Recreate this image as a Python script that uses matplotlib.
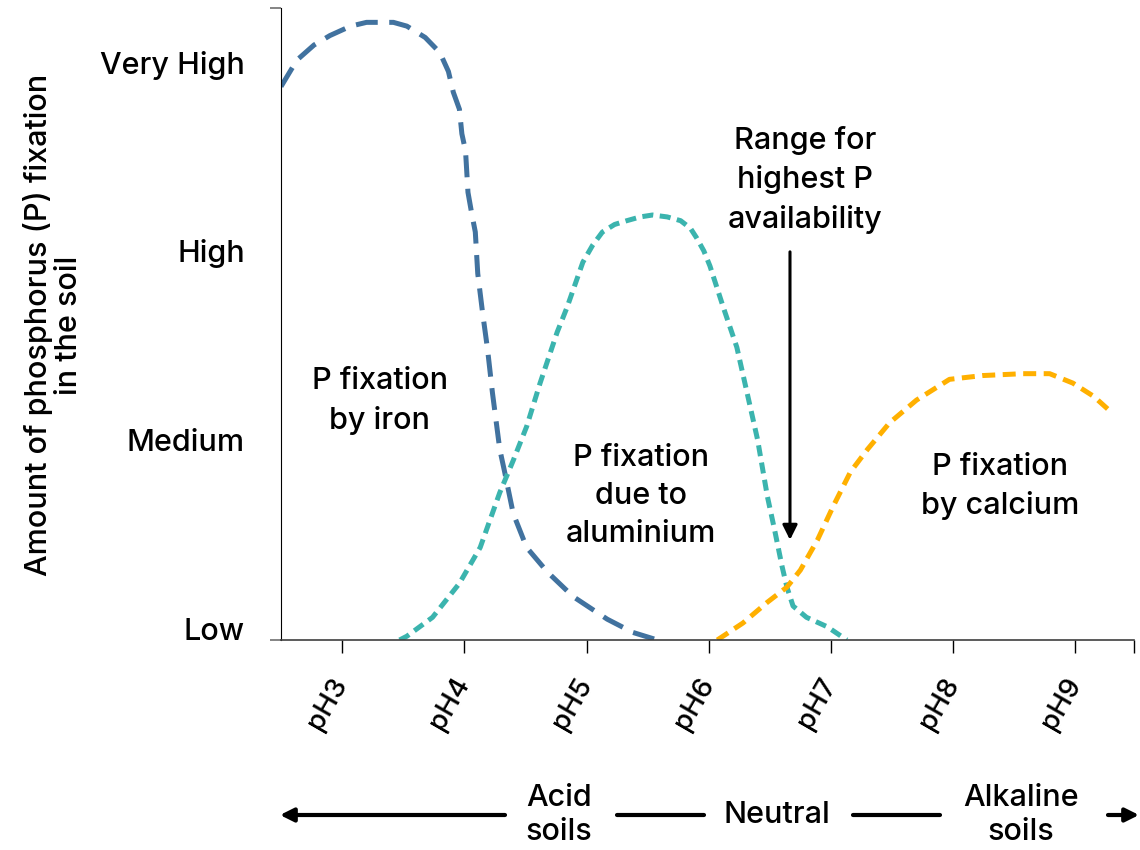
import matplotlib
matplotlib.use("Agg")
import matplotlib.pyplot as plt

plt.rcParams['font.family'] = ['Inter', 'DejaVu Sans']
plt.rcParams['font.weight'] = 'medium'

# pH on x, fixation level on y (0=Low, 1=Medium, 2=High, 3=Very High)
iron_ph = [2.5, 2.63, 2.77, 2.90, 3.07, 3.20, 3.31, 3.42, 3.53, 3.68, 3.80, 3.87, 3.91, 3.96,
           3.98, 4.01, 4.03, 4.06, 4.09, 4.11, 4.15, 4.19, 4.23, 4.29, 4.33, 4.40, 4.51, 4.68,
           4.89, 5.17, 5.38, 5.58]
iron_lvl = [2.87, 3.01, 3.09, 3.14, 3.19, 3.21, 3.21, 3.21, 3.19, 3.13, 3.05, 2.95, 2.84, 2.75,
            2.62, 2.53, 2.31, 2.20, 2.10, 1.88, 1.67, 1.48, 1.25, 0.95, 0.83, 0.61, 0.43, 0.30,
            0.17, 0.05, -0.02, -0.06]

alu_ph = [3.47, 3.53, 3.74, 3.96, 4.13, 4.29, 4.40, 4.51, 4.62, 4.76, 4.84, 4.97, 5.05, 5.13,
          5.23, 5.33, 5.44, 5.54, 5.66, 5.77, 5.85, 5.90, 5.96, 6.01, 6.12, 6.23, 6.31, 6.40,
          6.48, 6.54, 6.60, 6.64, 6.69, 6.80, 6.97, 7.13]
alu_lvl = [-0.06, -0.04, 0.06, 0.24, 0.43, 0.72, 0.89, 1.07, 1.30, 1.57, 1.70, 1.94, 2.03, 2.10,
           2.14, 2.16, 2.18, 2.19, 2.18, 2.16, 2.12, 2.07, 2.00, 1.92, 1.70, 1.49, 1.26, 1.00,
           0.70, 0.52, 0.33, 0.22, 0.12, 0.06, 0.01, -0.06]

ca_ph = [6.07, 6.28, 6.48, 6.64, 6.75, 6.89, 7.02, 7.16, 7.30, 7.48, 7.70, 7.97, 8.24, 8.57,
         8.79, 8.98, 9.15, 9.27]
ca_lvl = [-0.06, 0.03, 0.14, 0.22, 0.31, 0.47, 0.65, 0.83, 0.95, 1.09, 1.21, 1.32, 1.34, 1.35,
          1.35, 1.30, 1.23, 1.16]

ph_ticks = [3, 4, 5, 6, 7, 8, 9]
ph_labels = ['pH3', 'pH4', 'pH5', 'pH6', 'pH7', 'pH8', 'pH9']
level_ticks = [0, 1, 2, 3]
level_labels = ['Low', 'Medium', 'High', 'Very High']

fig = plt.figure(figsize=(11.4, 8.5), dpi=100)
ax = fig.add_axes([281 / 1140, 210 / 850, 853 / 1140, 632 / 850])

ax.plot(iron_ph, iron_lvl, color='#41729f', lw=3.6, dashes=(4.4, 2.3))
ax.plot(alu_ph, alu_lvl, color='#3bb4ae', lw=3.6, dashes=(2.2, 1.3))
ax.plot(ca_ph, ca_lvl, color='#ffb000', lw=3.6, dashes=(2.6, 1.5))

ax.set_xlim(2.5, 9.48)
ax.set_ylim(-0.06, 3.286)

ax.spines['top'].set_visible(False)
ax.spines['right'].set_visible(False)
ax.spines['left'].set_color('black')
ax.spines['bottom'].set_color('#404040')
ax.spines['bottom'].set_linewidth(1.2)

ax.set_xticks(ph_ticks)
ax.set_xticklabels([])
ax.set_xticks([9.48], minor=True)
ax.tick_params(axis='x', which='both', direction='out', length=9, width=1, color='black')

ax.set_yticks(level_ticks)
ax.set_yticklabels(level_labels, fontsize=22)
ax.tick_params(axis='y', which='major', length=0, pad=26)
ax.set_yticks([-0.06, 3.286], minor=True)
ax.tick_params(axis='y', which='minor', length=8, width=1.2, color='#707070')

for t, lab in zip(ph_ticks, ph_labels):
    ax.text(t - 0.115, -0.1, lab, transform=ax.get_xaxis_transform(), rotation=60,
            ha='center', va='center', fontsize=20)

fig.text(53 / 1140, 1 - 325 / 850, 'Amount of phosphorus (P) fixation\nin the soil',
         rotation=90, ha='center', va='center', fontsize=22, multialignment='center',
         linespacing=1.1)

note = dict(ha='center', va='center', fontsize=22, linespacing=1.45)
ax.text(3.31, 1.206, 'P fixation\nby iron', **note)
ax.text(5.446, 0.704, 'P fixation\ndue to\naluminium', **note)
ax.text(8.384, 0.751, 'P fixation\nby calcium', **note)
ax.text(6.79, 2.376, 'Range for\nhighest P\navailability', **note)
ax.annotate('', xy=(6.665, 0.47), xytext=(6.665, 1.995),
            arrowprops=dict(arrowstyle='-|>', lw=2.2, color='black', mutation_scale=22,
                            shrinkA=0, shrinkB=0))

# soil reaction scale under the axis
yb = 850 - 815
ax.annotate('', xy=(280, yb), xytext=(505, yb), xycoords='figure pixels',
            arrowprops=dict(arrowstyle='-|>', lw=3, color='black', mutation_scale=20,
                            shrinkA=0, shrinkB=0))
ax.annotate('', xy=(617, yb), xytext=(704, yb), xycoords='figure pixels',
            arrowprops=dict(arrowstyle='-', lw=3, color='black', shrinkA=0, shrinkB=0))
ax.annotate('', xy=(853, yb), xytext=(940, yb), xycoords='figure pixels',
            arrowprops=dict(arrowstyle='-', lw=3, color='black', shrinkA=0, shrinkB=0))
ax.annotate('', xy=(1139, yb), xytext=(1108, yb), xycoords='figure pixels',
            arrowprops=dict(arrowstyle='-|>', lw=3, color='black', mutation_scale=20,
                            shrinkA=0, shrinkB=0))
fig.text(559 / 1140, yb / 850, 'Acid\nsoils', ha='center', va='center', fontsize=22,
         linespacing=1.3)
fig.text(777 / 1140, yb / 850, 'Neutral', ha='center', va='center', fontsize=22)
fig.text(1021 / 1140, yb / 850, 'Alkaline\nsoils', ha='center', va='center', fontsize=22,
         linespacing=1.3)

fig.savefig('out.png', dpi=100)
